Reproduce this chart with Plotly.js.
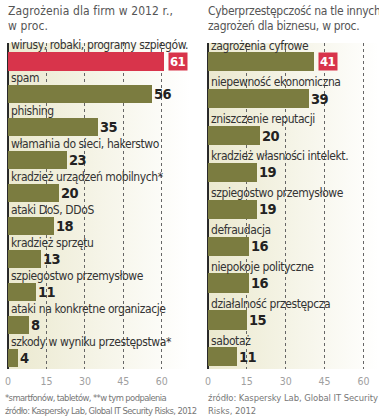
<!DOCTYPE html>
<html><head><meta charset="utf-8">
<script src="https://cdn.plot.ly/plotly-3.0.1.min.js"></script>
<style>html,body{margin:0;padding:0;background:#fff}#c{width:379px;height:417px}</style>
</head><body><div id="c"></div>
<script>
const leftCats = ['wirusy, robaki, programy szpiegów.','spam','phishing','włamania do sieci, hakerstwo','kradzież urządzeń mobilnych*','ataki DoS, DDoS','kradzież sprzętu','szpiegostwo przemysłowe','ataki na konkretne organizacje','szkody w wyniku przestępstwa*'];
const leftVals = [61,56,35,23,20,18,13,11,8,4];
const rightCats = ['zagrożenia cyfrowe','niepewność ekonomiczna','zniszczenie reputacji','kradzież własności intelekt.','szpiegostwo przemysłowe','defraudacja','niepokoje polityczne','działalność przestępcza','sabotaż'];
const rightVals = [41,39,20,19,19,16,16,15,11];
const tickVals = [0,15,30,45,60];

(function(){
const W=379,H=417;
const pTop=43,pBot=369;
const yd=[1-pBot/H,1-pTop/H];
const lx=[8/W,190/W], rx=[208/W,1];
const NARROW='"DejaVu Sans Condensed","Liberation Sans Narrow",sans-serif';
const OLIVE='#7b7c40', RED='#d8344b';
const sp=(t,ls)=>`<span style="letter-spacing:${ls}px">${t}</span>`;

function grad(c1,c2){
  const svg=`<svg xmlns="http://www.w3.org/2000/svg" width="100" height="100" preserveAspectRatio="none"><defs><linearGradient id="g" x1="0" x2="1" y1="0" y2="0"><stop offset="0" stop-color="${c1}"/><stop offset="1" stop-color="${c2}"/></linearGradient></defs><rect width="100" height="100" fill="url(#g)"/></svg>`;
  return 'data:image/svg+xml;base64,'+btoa(svg);
}

const idx=a=>a.map((_,i)=>i);
const traces=[
 {type:'bar',orientation:'h',x:leftVals,y:idx(leftVals),xaxis:'x',yaxis:'y',width:0.55,
  marker:{color:leftVals.map((v,i)=>i===0?RED:OLIVE)},hoverinfo:'none'},
 {type:'bar',orientation:'h',x:rightVals,y:idx(rightVals),xaxis:'x2',yaxis:'y2',width:0.52,
  marker:{color:OLIVE},hoverinfo:'none'}
];

const ann=[];
function addLabels(cats,vals,xr,yr,off){
  cats.forEach((c,i)=>{
    ann.push({xref:xr,yref:yr,x:0,y:i-off,text:sp(c,-0.4),showarrow:false,xanchor:'left',yanchor:'middle',xshift:1,
      font:{family:NARROW,size:12,color:'#333'}});
    const hl=i===0;
    ann.push({xref:xr,yref:yr,x:vals[i],y:i,text:'<b>'+sp(vals[i],-0.6)+'</b>',showarrow:false,xanchor:'left',yanchor:'middle',
      xshift:hl?4:1,bgcolor:hl?RED:'rgba(0,0,0,0)',borderpad:hl?1:0,
      font:{family:NARROW,size:hl?13:14.5,color:hl?'#fff':'#222'}});
  });
}
addLabels(leftCats,leftVals,'x','y',0.5);
addLabels(rightCats,rightVals,'x2','y2',0.44);

const txt=(x,y,t,size,col,ls)=>({xref:'paper',yref:'paper',x:x/W,y:1-y/H,text:sp(t,ls),showarrow:false,xanchor:'left',yanchor:'middle',
  font:{family:NARROW,size:size,color:col}});
ann.push(txt(6,11,'Zagrożenia dla firm w 2012 r.,',12,'#555',0.1));
ann.push(txt(6,26,'w proc.',12,'#555',0.1));
ann.push(txt(206,11,'Cyberprzestępczość na tle innych',12,'#555',-0.3));
ann.push(txt(206,26,'zagrożeń dla biznesu, w proc.',12,'#555',-0.3));
ann.push(txt(3,397,'*smartfonów, tabletów, **w tym podpalenia',9.4,'#777',-0.6));
ann.push(txt(3,410,'źródło: Kaspersky Lab, Global IT Security Risks, 2012',9.4,'#777',-0.6));
ann.push(txt(206,397,'źródło: Kaspersky Lab, Global IT Security',9.4,'#777',-0.05));
ann.push(txt(206,410,'Risks, 2012',9.4,'#777',-0.05));

const xa=(dom,range,anchor)=>({domain:dom,range:range,anchor:anchor,tickvals:tickVals,showgrid:true,griddash:'dot',gridcolor:'#666',gridwidth:1,
  zeroline:true,zerolinecolor:'#2a2a2a',zerolinewidth:2,showline:false,ticks:'',ticklabelstandoff:4,
  tickfont:{family:NARROW,size:10.5,color:'#a0a0a0'},fixedrange:true});
const ya=(range,anchor)=>({domain:yd,range:range,anchor:anchor,showgrid:false,zeroline:false,showticklabels:false,ticks:'',fixedrange:true});

const layout={
  width:W,height:H,margin:{l:0,r:0,t:0,b:0},paper_bgcolor:'#fff',plot_bgcolor:'rgba(0,0,0,0)',showlegend:false,
  xaxis:xa(lx,[0,71],'y'),yaxis:ya([9.33,-0.56],'x'),
  xaxis2:xa(rx,[0,66],'y2'),yaxis2:ya([8.33,-0.51],'x2'),
  bargap:0,
  annotations:ann,
  images:[
   {source:grad('#ebe9cf','#ffffff'),xref:'paper',yref:'paper',x:lx[0],y:yd[1],sizex:lx[1]-lx[0],sizey:yd[1]-yd[0],sizing:'stretch',xanchor:'left',yanchor:'top',layer:'below'},
   {source:grad('#ebe9cf','#ffffff'),xref:'paper',yref:'paper',x:rx[0],y:yd[1],sizex:rx[1]-rx[0],sizey:yd[1]-yd[0],sizing:'stretch',xanchor:'left',yanchor:'top',layer:'below'}
  ]
};
Plotly.newPlot('c',traces,layout,{displayModeBar:false,staticPlot:true});
})();
</script></body></html>
